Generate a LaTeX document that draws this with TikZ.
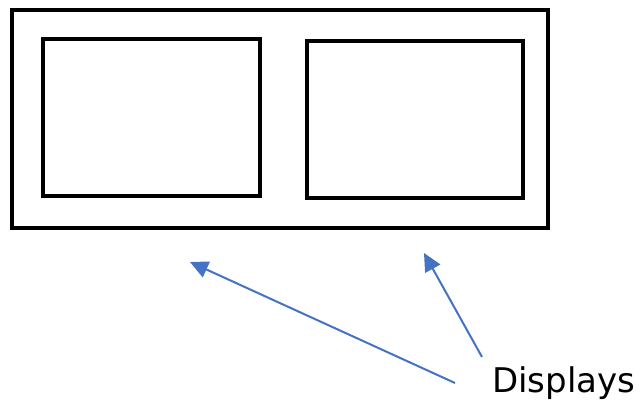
\documentclass[tikz,border=0pt]{standalone}
\usepackage{fontspec}
\setmainfont{DejaVu Sans}
\usetikzlibrary{arrows.meta}
\definecolor{pointer}{RGB}{68,114,196}
\begin{document}
\begin{tikzpicture}[x=1pt,y=-1pt,
  frame/.style={draw=black, line width=4pt, inner sep=0pt, outer sep=0pt},
  pointerline/.style={draw=pointer, line width=2pt, -{Triangle[length=18pt,width=17pt]}}]
\useasboundingbox (0,0) rectangle (640,409);
% housing and its two screens
\node[frame, minimum width=536pt, minimum height=218pt] (housing) at (280,119) {};
\node[frame, minimum width=217pt, minimum height=157pt] (screenL) at (151.5,117.5) {};
\node[frame, minimum width=216pt, minimum height=157pt] (screenR) at (415,119.5) {};
% label and pointers
\node[anchor=base west, inner sep=0pt, font=\fontsize{34}{38}\selectfont] (label) at (492,392) {Displays};
\coordinate (fromL) at (455,383);
\coordinate (toL) at (190,262);
\coordinate (fromR) at (482,357);
\coordinate (toR) at (424,253);
\draw[pointerline] (fromL) -- (toL);
\draw[pointerline] (fromR) -- (toR);
\end{tikzpicture}
\end{document}
